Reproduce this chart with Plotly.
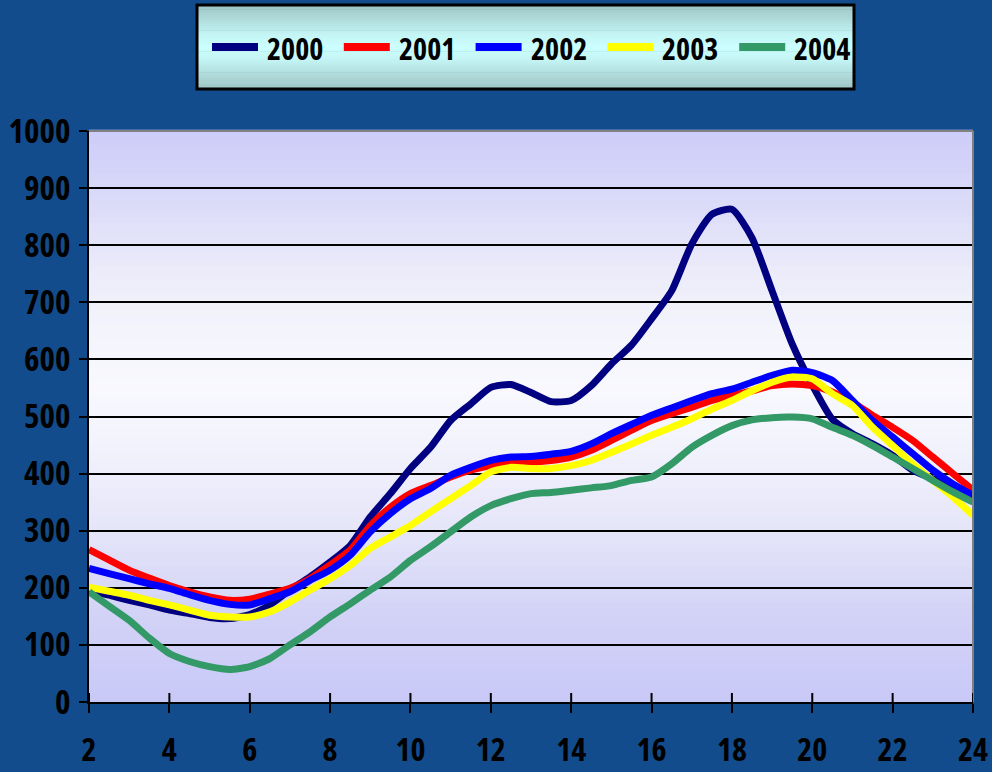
import plotly.graph_objects as go

# ---------------- data ----------------
hours = [2, 2.5, 3, 3.5, 4, 4.5, 5, 5.5, 6, 6.5, 7, 7.5, 8, 8.5, 9, 9.5, 10, 10.5,
         11, 11.5, 12, 12.5, 13, 13.5, 14, 14.5, 15, 15.5, 16, 16.5, 17, 17.5, 18,
         18.5, 19, 19.5, 20, 20.5, 21, 21.5, 22, 22.5, 23, 23.5, 24]

y2000 = [195, 187, 178, 170, 161, 155, 148, 146, 153, 170, 196, 219, 245, 274, 324, 365,
         409, 446, 493, 522, 551, 556, 542, 526, 528, 554, 592, 625, 671, 720, 802, 854,
         863, 813, 720, 627, 555, 495, 470, 452, 432, 406, 391, 374, 362]
y2001 = [267, 249, 231, 217, 204, 193, 184, 178, 180, 189, 199, 216, 240, 266, 309, 341,
         365, 379, 394, 406, 414, 420, 420, 423, 429, 441, 458, 476, 493, 505, 516, 528,
         537, 545, 554, 557, 554, 543, 525, 502, 481, 458, 429, 400, 371]
y2002 = [234, 225, 216, 207, 199, 188, 178, 171, 170, 181, 193, 213, 231, 257, 298, 330,
         356, 374, 397, 411, 423, 429, 430, 434, 439, 452, 470, 486, 502, 515, 528, 540,
         548, 560, 572, 581, 577, 563, 528, 493, 464, 435, 406, 382, 362]
y2003 = [201, 194, 187, 178, 170, 161, 152, 149, 149, 158, 175, 196, 216, 239, 269, 289,
         309, 333, 356, 379, 403, 411, 409, 409, 414, 423, 437, 452, 467, 481, 496, 513,
         528, 545, 560, 569, 566, 540, 519, 481, 449, 417, 388, 359, 327]
y2004 = [193, 168, 143, 112, 85, 71, 62, 57, 62, 76, 100, 123, 149, 172, 196, 219,
         248, 272, 298, 324, 344, 356, 365, 367, 371, 375, 379, 388, 394, 417, 446, 467,
         484, 494, 498, 499, 496, 481, 467, 449, 429, 409, 388, 368, 350]

series_names = ["2000", "2001", "2002", "2003", "2004"]
series_values = [y2000, y2001, y2002, y2003, y2004]
series_colors = ["#000080", "#FF0000", "#0000FF", "#FFFF00", "#339966"]

x_ticks = [2, 4, 6, 8, 10, 12, 14, 16, 18, 20, 22, 24]
y_ticks = [0, 100, 200, 300, 400, 500, 600, 700, 800, 900, 1000]

# ---------------- layout geometry ----------------
W, H = 992, 772
ML, MR, MT, MB = 89, 19, 131, 70
PW, PH = W - ML - MR, H - MT - MB

def px_x(px):
    return (px - ML) / PW

def px_y(py):
    return (H - MB - py) / PH

FONT = "Open Sans, Noto Sans, DejaVu Sans, sans-serif"
font_tick = dict(family=FONT, size=33, color="black", weight="bold")

fig = go.Figure()

for name, vals, col in zip(series_names, series_values, series_colors):
    fig.add_trace(go.Scatter(
        x=hours, y=vals, name=name, mode="lines",
        line=dict(color=col, width=7, shape="spline", smoothing=0.6),
        showlegend=False,
    ))

shapes = []

def interp(stops, t):
    for (t0, c0), (t1, c1) in zip(stops[:-1], stops[1:]):
        if t0 <= t <= t1:
            f = (t - t0) / (t1 - t0) if t1 > t0 else 0
            return tuple(round(a + (b - a) * f) for a, b in zip(c0, c1))
    return stops[-1][1]

# plot-area vertical gradient (lavender - white - lavender)
plot_stops = [(0.0, (201, 201, 248)), (0.15, (210, 210, 247)), (0.3, (229, 229, 249)),
              (0.45, (243, 243, 253)), (0.55, (248, 248, 254)), (0.65, (244, 244, 252)),
              (0.75, (236, 236, 250)), (0.85, (222, 222, 249)), (1.0, (204, 204, 249))]
N = 80
for i in range(N):
    t = (i + 0.5) / N
    r, g, b = interp(plot_stops, t)
    shapes.append(dict(type="rect", xref="paper", yref="paper",
                       x0=0, x1=1, y0=i / N, y1=(i + 1) / N + 0.002,
                       fillcolor=f"rgb({r},{g},{b})", line=dict(width=0), layer="below"))

# gray border top / right of plot area
shapes.append(dict(type="line", xref="paper", yref="paper", x0=0, x1=1, y0=1, y1=1,
                   line=dict(color="#808080", width=2), layer="above"))
shapes.append(dict(type="line", xref="paper", yref="paper", x0=1, x1=1, y0=0, y1=1,
                   line=dict(color="#808080", width=2), layer="above"))

# crossing x ticks (through the axis)
for xv in x_ticks:
    shapes.append(dict(type="line", xref="x", yref="y", x0=xv, x1=xv,
                       ysizemode="pixel", yanchor=0, y0=-9, y1=9,
                       line=dict(color="black", width=2), layer="above"))

# legend box with gradient
LX0, LX1, LY0, LY1 = 197, 854, 5, 89
leg_stops = [(0.0, (158, 196, 196)), (0.35, (196, 244, 244)), (0.5, (204, 255, 255)),
             (0.65, (196, 244, 244)), (1.0, (158, 196, 196))]
NL = 40
for i in range(NL):
    t = (i + 0.5) / NL
    r, g, b = interp(leg_stops, t)
    ya = LY0 + (LY1 - LY0) * i / NL
    yb = LY0 + (LY1 - LY0) * (i + 1) / NL + 0.6
    shapes.append(dict(type="rect", xref="paper", yref="paper",
                       x0=px_x(LX0), x1=px_x(LX1), y0=px_y(yb), y1=px_y(ya),
                       fillcolor=f"rgb({r},{g},{b})", line=dict(width=0), layer="below"))
shapes.append(dict(type="rect", xref="paper", yref="paper",
                   x0=px_x(LX0), x1=px_x(LX1), y0=px_y(LY1), y1=px_y(LY0),
                   line=dict(color="black", width=3), fillcolor="rgba(0,0,0,0)", layer="above"))

annotations = []
item_start = 212
item_step = 131.8
ly = 47
for k, (name, col) in enumerate(zip(series_names, series_colors)):
    sx = item_start + k * item_step
    shapes.append(dict(type="line", xref="paper", yref="paper",
                       x0=px_x(sx), x1=px_x(sx + 46), y0=px_y(ly), y1=px_y(ly),
                       line=dict(color=col, width=8), layer="above"))
    annotations.append(dict(text=name, xref="paper", yref="paper",
                            x=px_x(sx + 53), y=px_y(ly + 1), xanchor="left", yanchor="middle",
                            align="left", showarrow=False, font=dict(font_tick, size=30)))

fig.update_layout(
    width=W, height=H,
    margin=dict(l=ML, r=MR, t=MT, b=MB, pad=0, autoexpand=False),
    paper_bgcolor="#134c8c",
    plot_bgcolor="rgba(0,0,0,0)",
    showlegend=False,
    shapes=shapes,
    annotations=annotations,
    xaxis=dict(range=[2, 24], tickvals=x_ticks, ticktext=[str(v) for v in x_ticks],
               showgrid=False, zeroline=False, showline=True, linecolor="black", linewidth=2,
               ticks="outside", ticklen=9, tickwidth=2, tickcolor="black",
               ticklabelstandoff=10, ticklabeloverflow="allow", automargin=False,
               tickfont=dict(font_tick, size=32)),
    yaxis=dict(range=[0, 1000], tickvals=y_ticks, ticktext=[str(v) for v in y_ticks],
               showgrid=True, gridcolor="black", gridwidth=2, zeroline=False,
               showline=True, linecolor="black", linewidth=2,
               ticks="outside", ticklen=8, tickwidth=2, tickcolor="black",
               ticklabelstandoff=2, automargin=False,
               tickfont=font_tick),
)

condense_js = (
    "var s=document.createElement('style');"
    "s.textContent='html,body{margin:0;padding:0;overflow:hidden;}"
    ".main-svg text{font-stretch:75% !important;}';"
    "document.head.appendChild(s);"
)

fig.write_html("out.html", post_script=condense_js, config={"displayModeBar": False})
